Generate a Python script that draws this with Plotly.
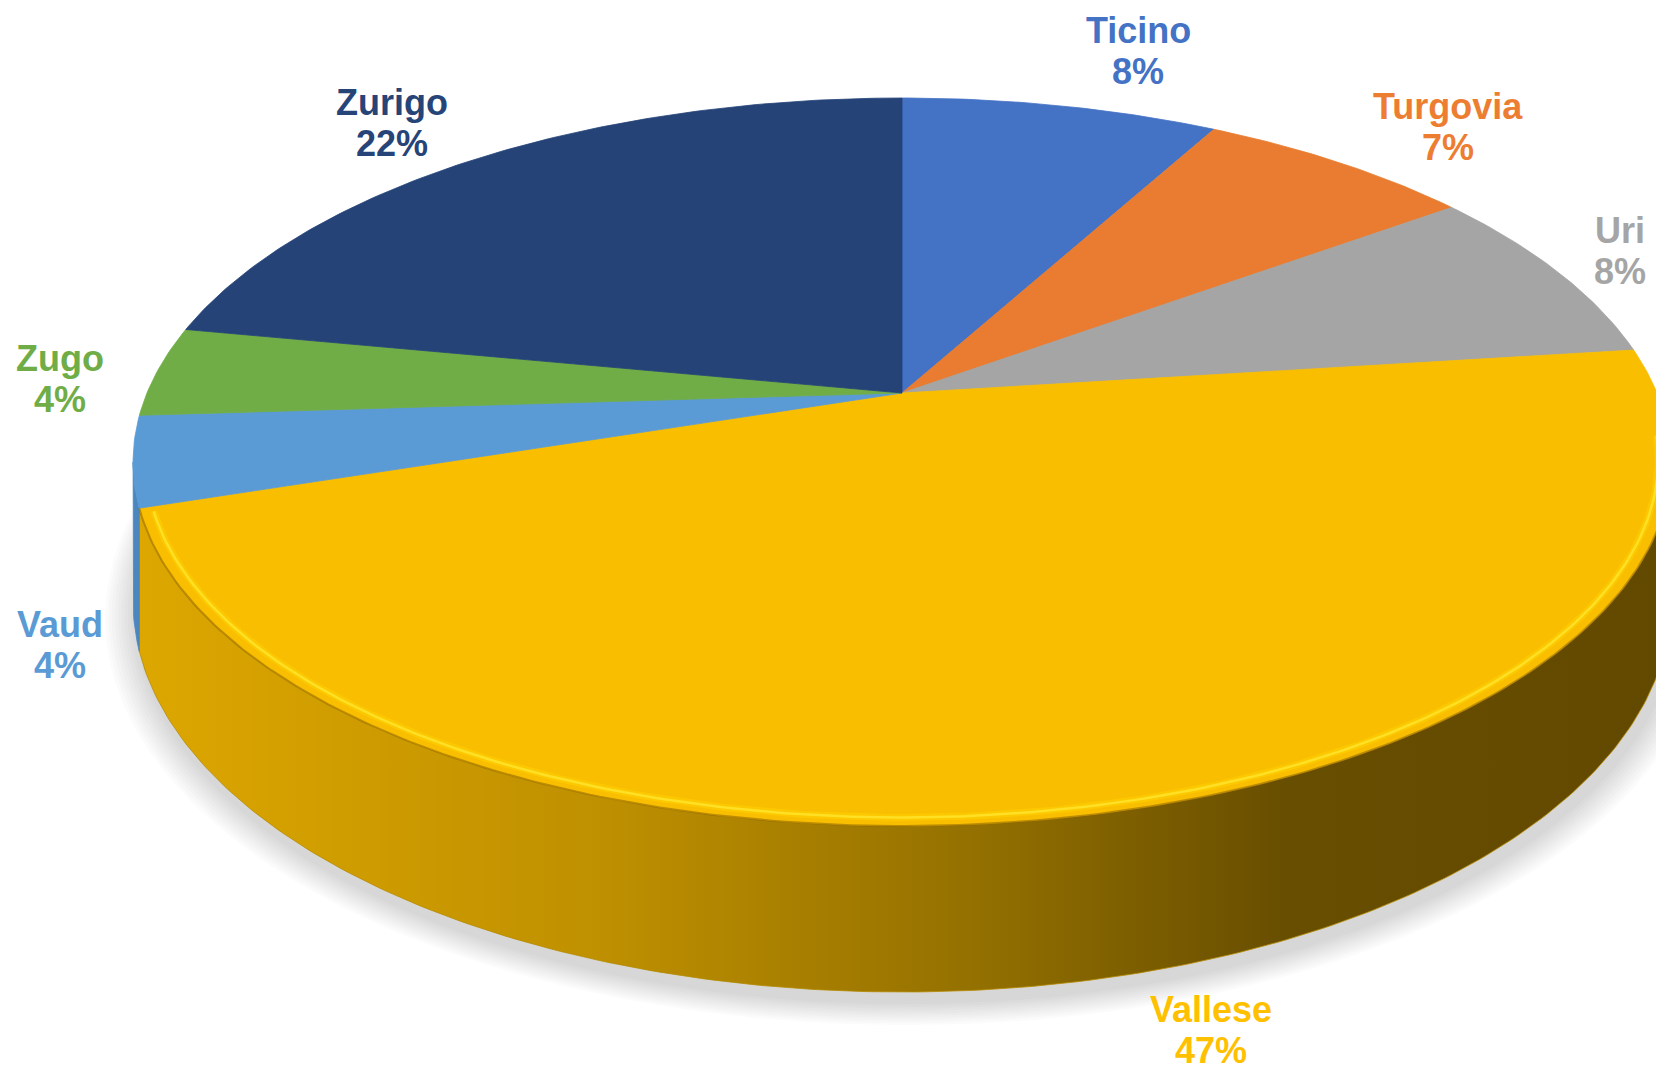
import math
import plotly.graph_objects as go

# ---- data ----
categories = ["Ticino", "Turgovia", "Uri", "Vallese", "Vaud", "Zugo", "Zurigo"]
values = [8, 7, 8, 47, 4, 4, 22]

# ---- styles ----
top_colors = ["#4472C4", "#E97C30", "#A5A5A5", "#F9BE00", "#5B9BD5", "#70AD47", "#254377"]
side_colors = ["#3A63AB", "#C9692A", "#8C8C8C", "#B58A00", "#4C86BE", "#5E9A3B", "#1E3866"]
label_colors = ["#4472C4", "#ED7D31", "#A5A5A5", "#FFC000", "#5B9BD5", "#70AD47", "#264478"]
# label anchor positions (page pixels, layout only)
label_x = [1138, 1448, 1620, 1211, 60, 60, 392]
label_y = [30, 106, 230, 1009, 624, 358, 102]

W, H = 1664, 1083
PAD = 8  # page body margin
CX, CY = 902.0, 393.0       # pie apex
R, A, K, D = 755.0, 350.9, 0.1895, 134.6


def proj(theta_deg, r=1.0, z=0.0):
    t = math.radians(theta_deg)
    X, Y = r * math.sin(t), r * math.cos(t)
    w = 1 + K * Y
    return CX + R * X / w, CY + (-A * Y + D * z) / w


def arc(a0, a1, r=1.0, z=0.0, n=None):
    n = n or max(4, int(abs(a1 - a0) * 1.5))
    pts = [proj(a0 + (a1 - a0) * i / n, r, z) for i in range(n + 1)]
    return [p[0] for p in pts], [p[1] for p in pts]


total = sum(values)
bounds = []
acc = 0.0
for v in values:
    a0 = acc / total * 360
    acc += v
    bounds.append((a0, acc / total * 360))

fig = go.Figure()

# soft shadow under the pie
for j in range(10):
    r = 1.0 + 0.004 * (10 - j)
    xs, ys = arc(0, 360, r, 1.0, n=360)
    fig.add_trace(go.Scatter(x=[x + 4 for x in xs], y=[y + 10 for y in ys], mode="lines",
                             fill="toself", line=dict(width=0), fillcolor="rgba(0,0,0,0.014)",
                             hoverinfo="skip", showlegend=False))

# side walls (only the front-facing part is visible)
sil0 = math.degrees(math.acos(-K))
sil1 = 360 - sil0
for i, (a0, a1) in enumerate(bounds):
    s0, s1 = max(a0, sil0), min(a1, sil1)
    if s1 <= s0:
        continue
    tx, ty = arc(s0, s1, 1.0, 0.0)
    bx, by = arc(s1, s0, 1.0, 1.0)
    xs, ys = tx + bx + [tx[0]], ty + by + [ty[0]]
    kw = dict(fillcolor=side_colors[i])
    if categories[i] == "Vallese":
        kw = dict(fillgradient=dict(type="horizontal",
                                    colorscale=[[0, "#DDA700"], [0.3, "#BF9000"], [0.55, "#937000"],
                                                [0.75, "#684E00"], [1, "#624900"]],
                                    start=140, stop=1664))
    fig.add_trace(go.Scatter(x=xs, y=ys, mode="lines", fill="toself",
                             line=dict(width=0.8, color=side_colors[i]),
                             hoverinfo="skip", showlegend=False, **kw))

# top faces
for i, (a0, a1) in enumerate(bounds):
    ax_, ay_ = arc(a0, a1)
    xs = [CX] + ax_ + [CX]
    ys = [CY] + ay_ + [CY]
    fig.add_trace(go.Scatter(x=xs, y=ys, mode="lines", fill="toself",
                             line=dict(width=0.8, color=top_colors[i]),
                             fillcolor=top_colors[i], name=categories[i],
                             hoverinfo="skip", showlegend=False))

# bevel highlight along the front edge of the big slice
for i, (a0, a1) in enumerate(bounds):
    if categories[i] == "Vallese":
        hx, hy = arc(max(a0, sil0 - 4), a1 - 0.8, 0.984, 0.0)
        fig.add_trace(go.Scatter(x=hx, y=hy, mode="lines",
                                 line=dict(width=7, color="rgba(255,208,0,0.55)"),
                                 hoverinfo="skip", showlegend=False))
        fig.add_trace(go.Scatter(x=hx, y=hy, mode="lines",
                                 line=dict(width=2.5, color="rgba(255,226,40,0.9)"),
                                 hoverinfo="skip", showlegend=False))
        ex, ey = arc(sil0, a1, 1.0, 0.0)
        fig.add_trace(go.Scatter(x=ex, y=ey, mode="lines",
                                 line=dict(width=2, color="rgba(140,100,0,0.55)"),
                                 hoverinfo="skip", showlegend=False))

# labels
for i, c in enumerate(categories):
    pct = f"{round(values[i] / total * 100)}%"
    for txt, yy in ((c, label_y[i]), (pct, label_y[i] + 41)):
        fig.add_annotation(x=label_x[i], y=yy, text=f"<b>{txt}</b>", showarrow=False,
                           xanchor="center", yanchor="middle",
                           font=dict(family="Liberation Sans, Arial, sans-serif", size=36,
                                     color=label_colors[i]))

fig.update_layout(
    width=W - 2 * PAD, height=H - 2 * PAD, margin=dict(l=0, r=0, t=0, b=0),
    paper_bgcolor="white", plot_bgcolor="white",
    xaxis=dict(range=[PAD, W - PAD], visible=False, fixedrange=True),
    yaxis=dict(range=[H - PAD, PAD], visible=False, fixedrange=True),
    showlegend=False,
)

fig.write_html("out.html")
